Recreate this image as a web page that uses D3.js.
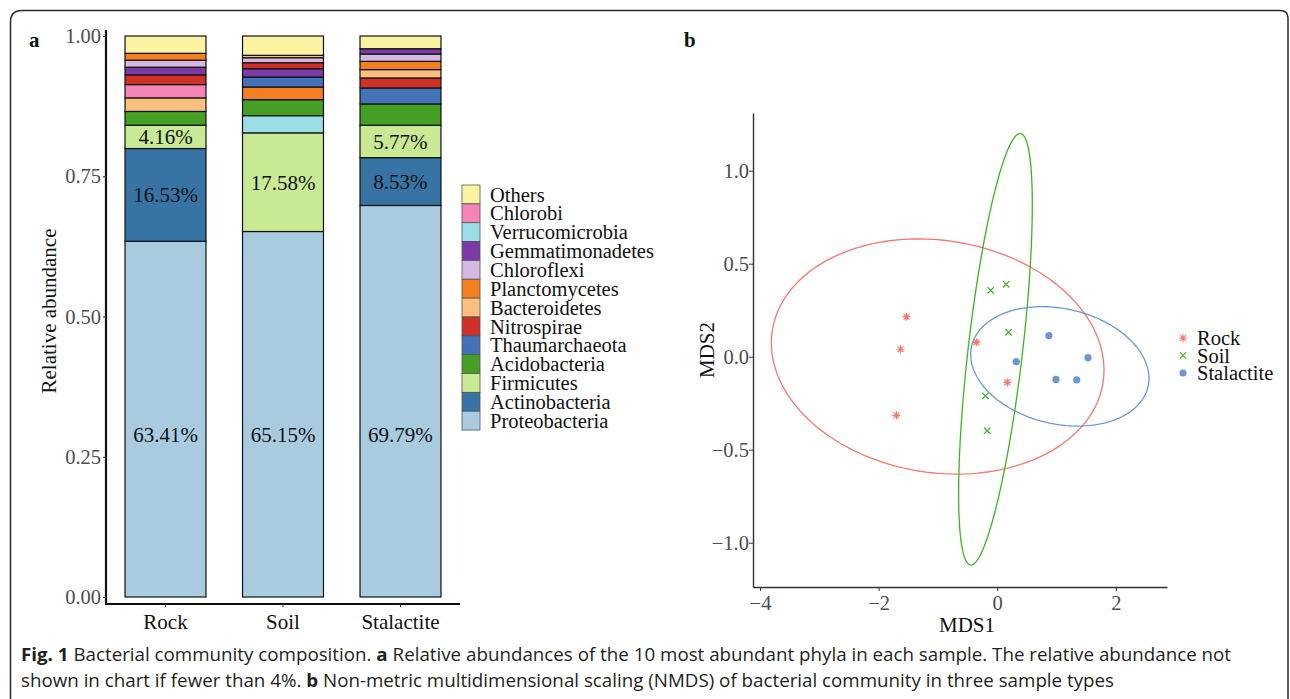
<!DOCTYPE html>
<html>
<head>
<meta charset="utf-8">
<script src="https://cdn.jsdelivr.net/npm/d3@7"></script>
<style>
  body { margin: 0; background: #fff; }
  svg { display: block; }
</style>
</head>
<body>
<svg id="fig" width="1290" height="699"></svg>
<script>
// ---- panel a data (percent) ----
var samples = ["Rock", "Soil", "Stalactite"];
var phyla = ["Proteobacteria", "Actinobacteria", "Firmicutes", "Acidobacteria", "Thaumarchaeota",
             "Nitrospirae", "Bacteroidetes", "Planctomycetes", "Chloroflexi", "Gemmatimonadetes",
             "Verrucomicrobia", "Chlorobi", "Others"];
var rockPct  = [63.41, 16.53, 4.16, 2.45, 0,    1.73, 2.42, 1.22, 1.25, 1.37, 0,    2.37, 3.09];
var soilPct  = [65.15, 0,    17.58, 2.85, 1.78, 1.07, 0.43, 2.26, 0.89, 1.48, 3.07, 0,    3.44];
var stalPct  = [69.79, 8.53,  5.77, 3.80, 2.85, 1.78, 1.49, 1.47, 1.30, 0.95, 0,    0,    2.27];
var phylumColors = ["#a9cbdf", "#3774a5", "#c8ea94", "#459f25", "#4472b6",
                    "#d03127", "#fdbf7e", "#f47f20", "#d5b9e3", "#7b3aa5",
                    "#9adfe6", "#f584b6", "#faf4a2"];
var yTicksA = [0, 0.25, 0.5, 0.75, 1];

// ---- panel b data (NMDS scores) ----
var groups = ["Rock", "Soil", "Stalactite"];
var rockMds1 = [-1.53, -1.63, -1.70, -0.35, 0.17];
var rockMds2 = [0.215, 0.040, -0.315, 0.077, -0.138];
var soilMds1 = [-0.11, 0.15, 0.19, -0.20, -0.17];
var soilMds2 = [0.357, 0.389, 0.131, -0.210, -0.398];
var stalMds1 = [0.87, 0.32, 1.53, 0.99, 1.34];
var stalMds2 = [0.113, -0.027, -0.005, -0.122, -0.125];
// confidence ellipses: centre, half extents, correlation
var ellCx    = [-1.004, -0.030, 1.055];
var ellCy    = [0.001, 0.040, -0.052];
var ellHalfX = [2.804, 0.621, 1.503];
var ellHalfY = [0.632, 1.160, 0.321];
var ellR     = [-0.115, 0.668, -0.200];
var groupColors = ["#f8766d", "#3cb521", "#6a98d4"];
var xTicksB = [-4, -2, 0, 2];
var yTicksB = [-1, -0.5, 0, 0.5, 1];

var serif = "'Liberation Serif', 'Times New Roman', serif";
var svg = d3.select("#fig");

// frame
svg.append("path")
    .attr("d", "M10.5,712 L10.5,22 Q10.5,10.5 22,10.5 L1280,10.5 Q1288,10.5 1288,18 L1288,712")
    .attr("fill", "none")
    .attr("stroke", "#2b2b2b")
    .attr("stroke-width", 1.5);

// ================= panel a =================
var y = d3.scaleLinear().domain([0, 1]).range([597, 36]);
var x = d3.scaleBand().domain(samples).range([106, 460]).paddingInner(0.311).paddingOuter(0.162);

var pctBySample = [rockPct, soilPct, stalPct];
var bars = [];
samples.forEach(function(s, si) {
  var segs = [];
  phyla.forEach(function(p, pi) {
    if (pctBySample[si][pi] > 0) segs.push({sample: s, phylum: p, idx: pi, v: pctBySample[si][pi] / 100});
  });
  // each bar sorted by abundance, Others kept on top
  segs.sort(function(a, b) {
    if (a.phylum == "Others") return 1;
    if (b.phylum == "Others") return -1;
    return b.v - a.v;
  });
  var cum = 0;
  segs.forEach(function(d, k) { d.y0 = cum; cum += d.v; d.y1 = cum; d.k = k; bars.push(d); });
});

var ga = svg.append("g");
ga.selectAll("rect.seg")
    .data(bars)
  .enter().append("rect")
    .attr("class", "seg")
    .attr("x", function(d) { return x(d.sample); })
    .attr("width", x.bandwidth())
    .attr("y", function(d) { return y(d.y1); })
    .attr("height", function(d) { return y(d.y0) - y(d.y1); })
    .attr("fill", function(d) { return phylumColors[d.idx]; })
    .attr("stroke", "#111")
    .attr("stroke-width", 1.2);

var baseLabelAt = 0.289;
ga.selectAll("text.pct")
    .data(bars.filter(function(d) { return d.v >= 0.04; }))
  .enter().append("text")
    .attr("class", "pct")
    .attr("x", function(d) { return x(d.sample) + x.bandwidth() / 2; })
    .attr("y", function(d) { return d.k == 0 ? y(baseLabelAt) : y((d.y0 + d.y1) / 2); })
    .attr("dy", "0.35em")
    .attr("text-anchor", "middle")
    .style("font-family", serif)
    .style("font-size", "21px")
    .attr("fill", "#111")
    .text(function(d) { return (d.v * 100).toFixed(2) + "%"; });

var yAxisA = ga.append("g")
    .attr("transform", "translate(106,0)")
    .call(d3.axisLeft(y).tickValues(yTicksA).tickFormat(d3.format(".2f")).tickSize(3).tickSizeOuter(0));
var xAxisA = ga.append("g")
    .attr("transform", "translate(0,604)")
    .call(d3.axisBottom(x).tickSize(3).tickSizeOuter(0));
yAxisA.select(".domain").attr("d", "M0,30V605").attr("stroke", "#111").attr("stroke-width", 2.2);
xAxisA.select(".domain").attr("d", "M105,0H460").attr("stroke", "#111").attr("stroke-width", 2.2);
yAxisA.selectAll(".tick line").attr("stroke", "#333");
xAxisA.selectAll(".tick line").attr("stroke", "#333");
yAxisA.selectAll(".tick text")
    .style("font-family", serif).style("font-size", "20.5px").attr("fill", "#4d4d4d").attr("x", -5);
xAxisA.selectAll(".tick text")
    .style("font-family", serif).style("font-size", "21px").attr("fill", "#111").attr("y", 10);

ga.append("text")
    .attr("transform", "translate(56,311) rotate(-90)")
    .attr("text-anchor", "middle")
    .style("font-family", serif).style("font-size", "21px")
    .attr("fill", "#111")
    .text("Relative abundance");

// legend a (reverse of stacking order)
var legendA = phyla.map(function(p, i) { return i; }).reverse();
var lg = ga.selectAll("g.lega")
    .data(legendA)
  .enter().append("g")
    .attr("class", "lega")
    .attr("transform", function(d, i) { return "translate(462," + (185 + i * 18.85) + ")"; });
lg.append("rect")
    .attr("width", 18).attr("height", 18.85)
    .attr("fill", function(d) { return phylumColors[d]; })
    .attr("stroke", "#555").attr("stroke-width", 0.8);
lg.append("text")
    .attr("x", 28).attr("y", 9.4).attr("dy", "0.35em")
    .style("font-family", serif).style("font-size", "20.5px")
    .attr("fill", "#111")
    .text(function(d) { return phyla[d]; });

// ================= panel b =================
var xb = d3.scaleLinear().domain([-4.118, 2.862]).range([753, 1167]);
var yb = d3.scaleLinear().domain([-1.238, 1.310]).range([587, 113]);
var gb = svg.append("g");

var ellLine = d3.line()
    .x(function(d) { return xb(d[0]); })
    .y(function(d) { return yb(d[1]); })
    .curve(d3.curveLinearClosed);
groups.forEach(function(g, gi) {
  var pts = d3.range(0, 2 * Math.PI, Math.PI / 90).map(function(t) {
    var r = ellR[gi];
    return [ellCx[gi] + ellHalfX[gi] * Math.cos(t),
            ellCy[gi] + ellHalfY[gi] * (r * Math.cos(t) + Math.sqrt(1 - r * r) * Math.sin(t))];
  });
  gb.append("path")
      .attr("d", ellLine(pts))
      .attr("fill", "none")
      .attr("stroke", groupColors[gi])
      .attr("stroke-width", 1.3);
});

var mds1 = [rockMds1, soilMds1, stalMds1];
var mds2 = [rockMds2, soilMds2, stalMds2];
var points = [];
groups.forEach(function(g, gi) {
  mds1[gi].forEach(function(v, j) { points.push({g: gi, x: v, y: mds2[gi][j]}); });
});

function drawSymbol(sel, gi) {
  var c = groupColors[gi];
  if (gi == 0) {
    var a = 4, b = 2.9;
    sel.append("path")
        .attr("d", "M" + (-a) + ",0H" + a + "M0," + (-a) + "V" + a +
                   "M" + (-b) + "," + (-b) + "L" + b + "," + b + "M" + (-b) + "," + b + "L" + b + "," + (-b))
        .attr("stroke", c).attr("stroke-width", 1.2).attr("fill", "none");
  } else if (gi == 1) {
    var h = 3.2;
    sel.append("path")
        .attr("d", "M" + (-h) + "," + (-h) + "L" + h + "," + h + "M" + (-h) + "," + h + "L" + h + "," + (-h))
        .attr("stroke", c).attr("stroke-width", 1.2).attr("fill", "none");
  } else {
    sel.append("circle").attr("r", 3.6).attr("fill", c);
  }
}

gb.selectAll("g.pt")
    .data(points)
  .enter().append("g")
    .attr("class", "pt")
    .attr("transform", function(d) { return "translate(" + xb(d.x) + "," + yb(d.y) + ")"; })
    .each(function(d) { drawSymbol(d3.select(this), d.g); });

var xAxisB = gb.append("g")
    .attr("transform", "translate(0,587)")
    .call(d3.axisBottom(xb).tickValues(xTicksB).tickFormat(d3.format("d")).tickSize(4).tickSizeOuter(0));
var yAxisB = gb.append("g")
    .attr("transform", "translate(753,0)")
    .call(d3.axisLeft(yb).tickValues(yTicksB).tickFormat(d3.format(".1f")).tickSize(4).tickSizeOuter(0));
[xAxisB, yAxisB].forEach(function(ax) {
  ax.select(".domain").attr("stroke", "#333").attr("stroke-width", 1.4);
  ax.selectAll(".tick line").attr("stroke", "#333");
  ax.selectAll(".tick text").style("font-family", serif).style("font-size", "20.5px").attr("fill", "#4d4d4d");
});
xAxisB.selectAll(".tick text").attr("y", 8);
yAxisB.selectAll(".tick text").attr("x", -4);

gb.append("text")
    .attr("x", 967).attr("y", 632)
    .attr("text-anchor", "middle")
    .style("font-family", serif).style("font-size", "21px")
    .attr("fill", "#111")
    .text("MDS1");
gb.append("text")
    .attr("transform", "translate(714,350) rotate(-90)")
    .attr("text-anchor", "middle")
    .style("font-family", serif).style("font-size", "21px")
    .attr("fill", "#111")
    .text("MDS2");

var lgb = gb.selectAll("g.legb")
    .data(groups)
  .enter().append("g")
    .attr("class", "legb")
    .attr("transform", function(d, i) { return "translate(1183," + (338 + i * 17.5) + ")"; });
lgb.each(function(d, i) { drawSymbol(d3.select(this), i); });
lgb.append("text")
    .attr("x", 14).attr("dy", "0.35em")
    .style("font-family", serif).style("font-size", "20.5px")
    .attr("fill", "#111")
    .text(function(d) { return d; });

// panel letters
svg.append("text").attr("x", 29).attr("y", 47)
    .style("font-family", serif).style("font-size", "21px").style("font-weight", "bold")
    .attr("fill", "#111").text("a");
svg.append("text").attr("x", 684).attr("y", 47)
    .style("font-family", serif).style("font-size", "21px").style("font-weight", "bold")
    .attr("fill", "#111").text("b");

// caption
var capLines = [
  [["Fig. 1", true], [" Bacterial community composition. ", false], ["a", true],
   [" Relative abundances of the 10 most abundant phyla in each sample. The relative abundance not", false]],
  [["shown in chart if fewer than 4%. ", false], ["b", true],
   [" Non-metric multidimensional scaling (NMDS) of bacterial community in three sample types", false]]
];
var capNodes = capLines.map(function(parts, li) {
  var t = svg.append("text")
      .attr("x", 0).attr("y", 0)
      .style("font-family", "'Open Sans', 'Noto Sans', sans-serif")
      .style("font-size", "18px")
      .attr("fill", "#231f20");
  parts.forEach(function(p) {
    t.append("tspan").style("font-weight", p[1] ? "bold" : "normal").text(p[0]);
  });
  return t;
});
var w1 = capNodes[0].node().getComputedTextLength();
var sx = (1232 - 21) / w1;
capNodes.forEach(function(t, li) {
  t.attr("transform", "translate(21," + (661 + li * 26) + ") scale(" + sx + ",1)");
});
</script>
</body>
</html>
